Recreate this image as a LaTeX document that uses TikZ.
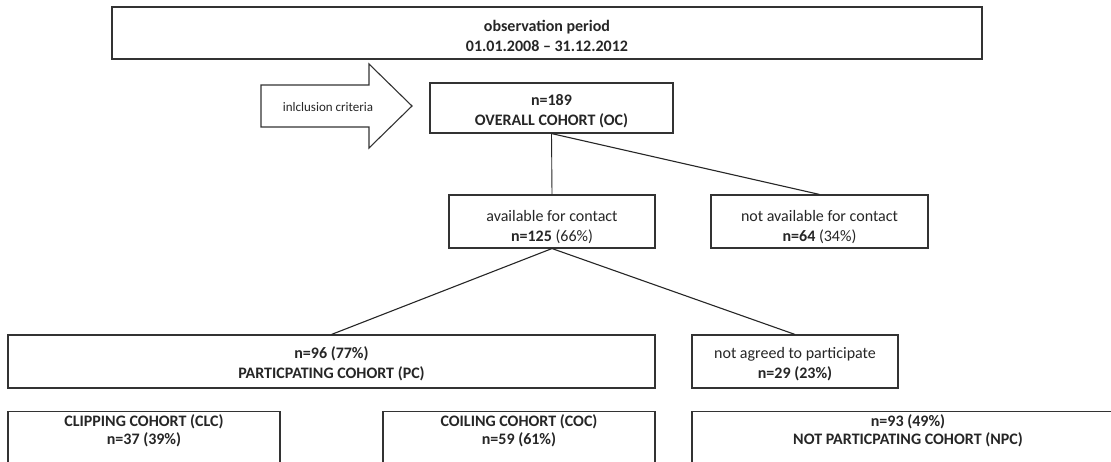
\documentclass[tikz,border=0pt]{standalone}
\usepackage{fontspec}
\setmainfont{Carlito}
\begin{document}
\begin{tikzpicture}[x=1pt,y=-1pt,
  boxline/.style={draw=black!80,line width=1.1pt},
  cbox/.style={boxline,fill=white,inner sep=0pt},
  txt/.style={align=center,inner sep=0pt,text=black!85,
    font=\fontsize{16}{20}\selectfont},
  bbox/.style={boxline,fill=white,anchor=north,inner sep=3pt,text=black!85,
    font=\fontsize{16}{18}\selectfont},
  conn/.style={draw=black!85,line width=1.1pt}]
\clip (0,0) rectangle (1111,462);
\fill[white] (0,0) rectangle (1111,462);
% observation period
\node[cbox,minimum width=870pt,minimum height=52pt,
  label={[txt,yshift=-3pt]center:{\bfseries observation period\\\bfseries 01.01.2008 \textendash{} 31.12.2012}}] (obs) at (547,33) {};
% inclusion arrow
\draw[boxline,fill=white] (261,85) -- (369,85) -- (369,64) -- (412,106) -- (369,148) -- (369,127) -- (261,127) -- cycle;
\node[text=black!85,font=\fontsize{13}{15}\selectfont] (crit) at (328,107) {inlclusion criteria};
% overall cohort
\node[cbox,minimum width=243pt,minimum height=50pt,
  label={[txt,yshift=-3pt]center:{\bfseries n=189\\\bfseries OVERALL COHORT (OC)}}] (oc) at (551.5,108) {};
\node[cbox,minimum width=206pt,minimum height=53pt,
  label={[txt,yshift=-6pt]center:{available for contact\\\textbf{n=125} (66\%)}}] (avail) at (552,221.5) {};
\node[cbox,minimum width=217pt,minimum height=53pt,
  label={[txt,yshift=-6pt]center:{not available for contact\\\textbf{n=64} (34\%)}}] (na) at (819.5,221.5) {};
\node[cbox,minimum width=647pt,minimum height=53pt,
  label={[txt,yshift=-2pt]center:{\bfseries n=96 (77\%)\\\bfseries PARTICPATING COHORT (PC)}}] (pc) at (331.5,361.5) {};
\node[cbox,minimum width=206pt,minimum height=53pt,
  label={[txt,yshift=-3pt]center:{not agreed to participate\\\textbf{n=29 (23\%)}}}] (nag) at (795,361.5) {};
% bottom row
\node[bbox] (clc) at (144,411)
  {\begin{minipage}[t][70pt][t]{266pt}\centering\bfseries CLIPPING COHORT (CLC)\\ n=37 (39\%)\end{minipage}};
\node[bbox] (coc) at (519,411)
  {\begin{minipage}[t][70pt][t]{266pt}\centering\bfseries COILING COHORT (COC)\\ n=59 (61\%)\end{minipage}};
\node[bbox] (npc) at (908,411)
  {\begin{minipage}[t][70pt][t]{426pt}\centering\bfseries n=93 (49\%)\\ NOT PARTICPATING COHORT (NPC)\end{minipage}};
% connectors
\draw[conn,line width=0.9pt] (oc.south) -- (avail.north);
\draw[conn] (oc.south) -- (na.north);
\draw[conn] (avail.south) -- (pc.north);
\draw[conn] (avail.south) -- (nag.north);
\end{tikzpicture}
\end{document}
